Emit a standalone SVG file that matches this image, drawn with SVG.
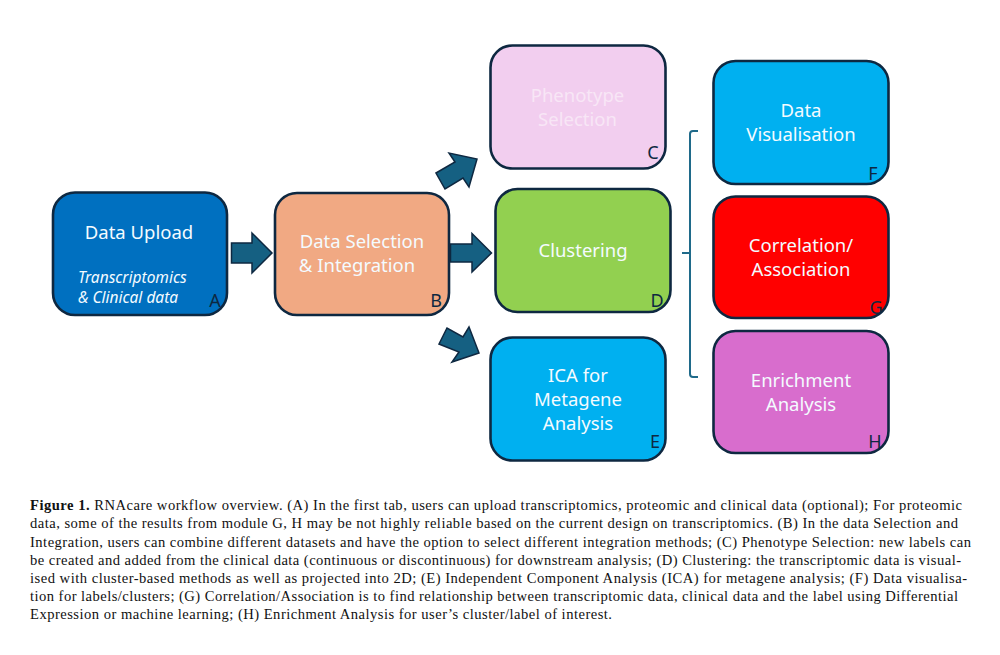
<svg xmlns="http://www.w3.org/2000/svg" width="1000" height="655" viewBox="0 0 1000 655">
<style>
.box{stroke:#0e2841;stroke-width:2.6}
.t{font-family:"Noto Sans","Open Sans",sans-serif;font-size:18.5px;fill:#f4fbff;text-anchor:middle}
.i{font-family:"Noto Sans","Open Sans",sans-serif;font-size:15.5px;font-style:italic;fill:#f4fbff}
.l{font-family:"Noto Sans","Open Sans",sans-serif;font-size:18px;fill:#0e2841;text-anchor:middle}
.a{fill:#156082;stroke:#0e2841;stroke-width:1.5}
.c{font-family:"Liberation Serif","Times New Roman",serif;font-size:14.6px;fill:#111}
.c b{font-weight:700}
</style>
<rect width="1000" height="655" fill="#fff"/>
<g id="connectors">
<polygon class="a" points="231.500,243 252,243 252,233 272,253 252,273 252,263 231.500,263"/>
<polygon class="a" points="450.500,244 472,244 472,233.500 491.500,253 472,272 472,262 450.500,262"/>
<polygon class="a" points="436,173 455,162 449,153 477,159 469,187 463,178 445,189"/>
<polygon class="a" points="439,344 447,328 463,337 469,327 479,353 452,362 459,352"/>
<path d="M698 131H693Q690 131 690 134V374Q690 377 693 377H698M682 253H690" fill="none" stroke="#1f6a8a" stroke-width="2"/>
</g>
<g id="node-a"><rect class="box" x="53" y="192.500" width="174" height="122.500" rx="22" fill="#0070c0"/>
<text class="t" x="139" y="238.500">Data Upload</text>
<text class="i" x="78" y="283">Transcriptomics</text>
<text class="i" x="78" y="303">&amp; Clinical data</text>
<text class="l" x="215" y="307">A</text></g>
<g id="node-b"><rect class="box" x="275" y="193" width="174" height="122" rx="22" fill="#f1a983"/>
<text class="t" x="362" y="248">Data Selection</text>
<text class="t" x="357" y="272">&amp; Integration</text>
<text class="l" x="436" y="307">B</text></g>
<g id="node-c"><rect class="box" x="490.500" y="45.500" width="175" height="123" rx="22" fill="#f2ceef"/>
<text class="t" x="577.500" y="102" style="fill:#f8e6f6">Phenotype</text>
<text class="t" x="577.500" y="126" style="fill:#f8e6f6">Selection</text>
<text class="l" x="653" y="159">C</text></g>
<g id="node-d"><rect class="box" x="495.500" y="189" width="175" height="123" rx="22" fill="#92d050"/>
<text class="t" x="583" y="257">Clustering</text>
<text class="l" x="657" y="307">D</text></g>
<g id="node-e"><rect class="box" x="490.500" y="337.500" width="175" height="123" rx="22" fill="#00b0f0"/>
<text class="t" x="578" y="382">ICA for</text>
<text class="t" x="578" y="406">Metagene</text>
<text class="t" x="578" y="430">Analysis</text>
<text class="l" x="655" y="448">E</text></g>
<g id="node-f"><rect class="box" x="713.500" y="61" width="175" height="123" rx="22" fill="#00b0f0"/>
<text class="t" x="801" y="117">Data</text>
<text class="t" x="801" y="141">Visualisation</text>
<text class="l" x="873" y="180">F</text></g>
<g id="node-g"><rect class="box" x="713.500" y="196.500" width="175" height="121.500" rx="22" fill="#ff0000"/>
<text class="t" x="801" y="252">Correlation/</text>
<text class="t" x="801" y="276">Association</text>
<text class="l" x="876" y="314">G</text></g>
<g id="node-h"><rect class="box" x="713.500" y="331" width="175" height="122" rx="22" fill="#d86dcd"/>
<text class="t" x="801" y="387">Enrichment</text>
<text class="t" x="801" y="411">Analysis</text>
<text class="l" x="875" y="448">H</text></g>
<g id="caption">
<text class="c" x="30" y="510" textLength="932" lengthAdjust="spacing"><tspan font-weight="700">Figure 1.</tspan> RNAcare workflow overview. (A) In the first tab, users can upload transcriptomics, proteomic and clinical data (optional); For proteomic</text>
<text class="c" x="30" y="528" textLength="928" lengthAdjust="spacing">data, some of the results from module G, H may be not highly reliable based on the current design on transcriptomics. (B) In the data Selection and</text>
<text class="c" x="30" y="546.500" textLength="941" lengthAdjust="spacing">Integration, users can combine different datasets and have the option to select different integration methods; (C) Phenotype Selection: new labels can</text>
<text class="c" x="30" y="564.500" textLength="931" lengthAdjust="spacing">be created and added from the clinical data (continuous or discontinuous) for downstream analysis; (D) Clustering: the transcriptomic data is visual-</text>
<text class="c" x="30" y="582.500" textLength="937" lengthAdjust="spacing">ised with cluster-based methods as well as projected into 2D; (E) Independent Component Analysis (ICA) for metagene analysis; (F) Data visualisa-</text>
<text class="c" x="30" y="600.500" textLength="928" lengthAdjust="spacing">tion for labels/clusters; (G) Correlation/Association is to find relationship between transcriptomic data, clinical data and the label using Differential</text>
<text class="c" x="30" y="618.500" textLength="582" lengthAdjust="spacing">Expression or machine learning; (H) Enrichment Analysis for user’s cluster/label of interest.</text>
</g>
</svg>
